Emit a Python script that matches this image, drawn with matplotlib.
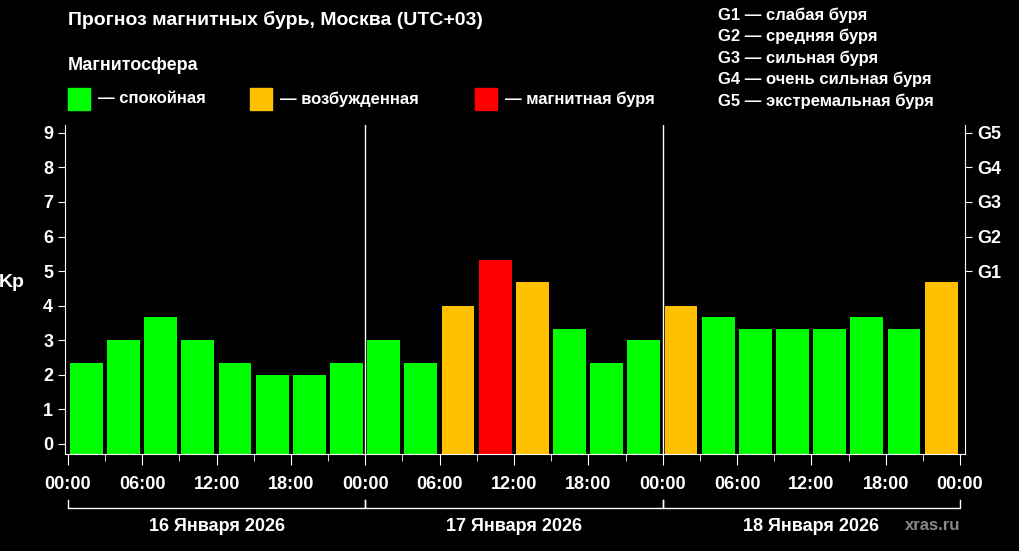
import matplotlib.pyplot as plt
import matplotlib.patches as mpatches

kp = [2.33, 3, 3.67, 3, 2.33, 2, 2, 2.33,
      3, 2.33, 4, 5.33, 4.67, 3.33, 2.33, 3,
      4, 3.67, 3.33, 3.33, 3.33, 3.67, 3.33, 4.67]
hour_labels = ['00:00', '06:00', '12:00', '18:00']
days = ['16 Января 2026', '17 Января 2026', '18 Января 2026']
g_labels = ['G1', 'G2', 'G3', 'G4', 'G5']
g_text = ['G1 — слабая буря', 'G2 — средняя буря', 'G3 — сильная буря',
          'G4 — очень сильная буря', 'G5 — экстремальная буря']

GREEN, ORANGE, RED = '#00ff00', '#ffc000', '#ff0000'

def colour(v):
    if v >= 5:
        return RED
    if v >= 4:
        return ORANGE
    return GREEN

plt.rcParams['font.family'] = ['Liberation Sans', 'DejaVu Sans']
plt.rcParams['font.weight'] = 'bold'

W, H = 1020, 551
fig = plt.figure(figsize=(W / 100, H / 100), dpi=100, facecolor='black')
ax = fig.add_axes([65 / W, (H - 454) / H, 900 / W, 329 / H], facecolor='black')
ymin = -0.3
ax.set_xlim(-0.24, 72.4)
ax.set_ylim(ymin, 9.23)

x = [i * 3 + 0.15 for i in range(len(kp))]
ax.bar(x, [v - ymin for v in kp], bottom=ymin, width=2.65, align='edge',
       color=[colour(v) for v in kp], zorder=2)

for d in (24, 48):
    ax.axvline(d, color='white', lw=1, zorder=3)

for s in ('top', 'right'):
    ax.spines[s].set_visible(False)
for s in ('left', 'bottom'):
    ax.spines[s].set_color('white')

ax.set_yticks(range(10))
ax.tick_params(axis='y', colors='white', labelsize=13, length=5)
ax.set_xticks(range(0, 73, 3), minor=True)
ax.set_xticks(range(0, 73, 6))
ax.set_xticklabels(hour_labels * 3 + ['00:00'])
ax.tick_params(axis='x', which='both', colors='white', labelsize=13)
ax.tick_params(axis='x', which='major', length=8, pad=8)
ax.tick_params(axis='x', which='minor', length=5)
for t in ax.get_xticklabels() + ax.get_yticklabels():
    t.set_fontweight('bold')

ax2 = ax.twinx()
ax2.set_ylim(ax.get_ylim())
ax2.set_yticks([5, 6, 7, 8, 9])
ax2.set_yticklabels(g_labels, fontweight='bold')
ax2.tick_params(axis='y', colors='white', labelsize=13, length=5)
for s in ax2.spines.values():
    s.set_visible(False)
ax2.spines['right'].set_visible(True)
ax2.spines['right'].set_color('white')

ax.text(-0.045, 0.52, 'Kp', transform=ax.transAxes, color='white', fontsize=14,
        fontweight='bold', ha='right', va='center')

# day brackets under the axis
tr = ax.get_xaxis_transform()
for i, day in enumerate(days):
    a, b = i * 24, (i + 1) * 24
    ax.plot([a, a, b, b], [-0.14, -0.165, -0.165, -0.14], color='white', lw=1,
            transform=tr, clip_on=False)
    ax.text((a + b) / 2, -0.22, day, transform=tr, color='white', fontsize=13,
            fontweight='bold', ha='center', va='center')

fig.text(68 / W, 1 - 20 / H, 'Прогноз магнитных бурь, Москва (UTC+03)', color='white',
         fontsize=14, fontweight='bold', va='center')
fig.text(68 / W, 1 - 66 / H, 'Магнитосфера', color='white', fontsize=13,
         fontweight='bold', va='center')
for xp, c, lab in [(68, GREEN, '— спокойная'), (250, ORANGE, '— возбужденная'),
                   (475, RED, '— магнитная буря')]:
    fig.patches.append(mpatches.Rectangle((xp / W, 1 - 110 / H), 22 / W, 22 / H,
                                          color=c, transform=fig.transFigure))
    fig.text((xp + 30) / W, 1 - 99 / H, lab, color='white', fontsize=12,
             fontweight='bold', va='center')
for i, t in enumerate(g_text):
    fig.text(718 / W, 1 - (15 + i * 21.5) / H, t, color='white', fontsize=12,
             fontweight='bold', va='center')
fig.text(960 / W, 1 - 525 / H, 'xras.ru', color='#888888', fontsize=12,
         ha='right', va='center')

fig.savefig('out.png', dpi=100, facecolor='black')
